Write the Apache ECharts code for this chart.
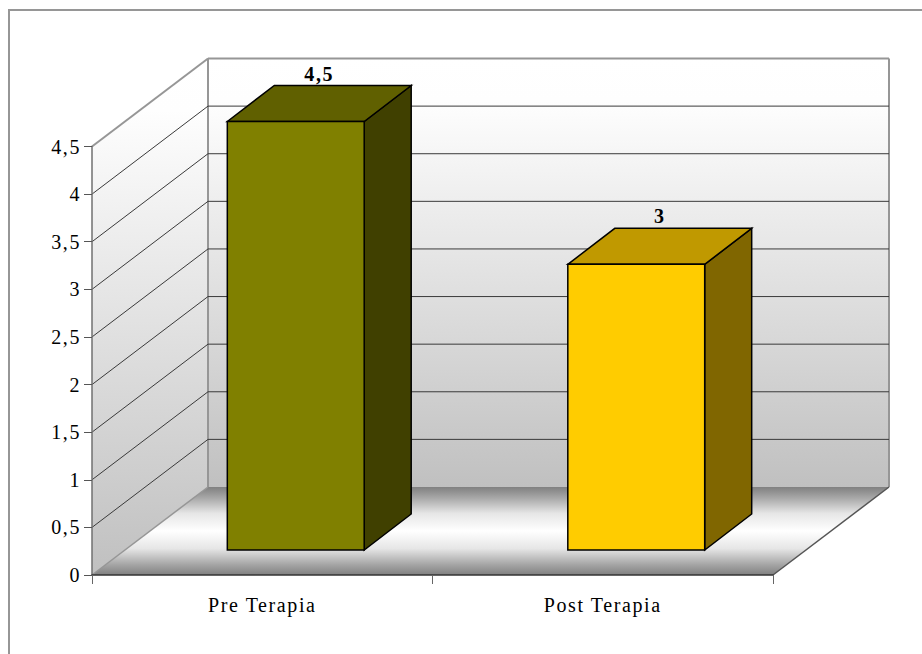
<!DOCTYPE html>
<html>
<head>
<meta charset="utf-8">
<style>
  html, body { margin: 0; padding: 0; background: #fff; overflow: hidden; }
  #chart { width: 922px; height: 654px; letter-spacing: 1.6px; }
</style>
<script src="https://cdn.jsdelivr.net/npm/echarts@6/dist/echarts.min.js"></script>
</head>
<body>
<div id="chart"></div>
<script>
const categories = ['Pre Terapia', 'Post Terapia'];
const values = [4.5, 3];
const gridValues = [0.5, 1, 1.5, 2, 2.5, 3, 3.5, 4];

const fills = [
  { front: '#808000', top: '#606000', side: '#404000' },
  { front: '#FFCC00', top: '#C09900', side: '#806600' }
];

// Oblique projection: how far the back wall sits from the front plane,
// and where each box starts and ends along that depth.
const DEPTH = [116, -88];
const BOX_START = [33.5, -25];
const BOX_DEPTH = [47, -36];
const BOX_WIDTH_RATIO = 0.402;
const SERIF = '"Liberation Serif", "Times New Roman", serif';

const commaDecimal = v => String(v).replace('.', ',');
const shift = (p, d) => [p[0] + d[0], p[1] + d[1]];

function vertical(stops) {
  return {
    type: 'linear', x: 0, y: 0, x2: 0, y2: 1,
    colorStops: stops.map(s => ({ offset: s[0], color: s[1] }))
  };
}

function polygon(points, fill, stroke, lineWidth) {
  return {
    type: 'polygon',
    shape: { points },
    style: { fill, stroke: stroke || 'none', lineWidth: lineWidth || 0, lineJoin: 'miter' }
  };
}

function line(a, b, stroke, lineWidth) {
  return {
    type: 'line',
    shape: { x1: a[0], y1: a[1], x2: b[0], y2: b[1] },
    style: { stroke, lineWidth }
  };
}

// Side wall, back wall and floor of the plot box.
function renderWalls(params) {
  const c = params.coordSys;
  const fl = [c.x, c.y + c.height];
  const fr = [c.x + c.width, c.y + c.height];
  const tl = [c.x, c.y];
  const bl = shift(fl, DEPTH);
  const br = shift(fr, DEPTH);
  const btl = shift(tl, DEPTH);
  const btr = [br[0], btl[1]];
  const wallFill = vertical([[0, '#ffffff'], [0.1, '#fefefe'], [1, '#c0c0c0']]);
  const floorFill = vertical([
    [0, '#808080'], [0.12, '#a6a6a6'], [0.3, '#e6e6e6'], [0.5, '#ffffff'],
    [0.7, '#e6e6e6'], [0.88, '#a6a6a6'], [1, '#808080']
  ]);
  const edge = '#969696';
  return {
    type: 'group',
    children: [
      polygon([tl, btl, bl, fl], wallFill),
      polygon([btl, btr, br, bl], wallFill),
      polygon([fl, fr, br, bl], floorFill),
      line(tl, btl, edge, 2),
      line(btl, btr, edge, 2),
      line(btr, br, edge, 2),
      line(btl, bl, edge, 2),
      line(fl, bl, edge, 1.5),
      line(fr, br, '#555555', 1.5)
    ]
  };
}

// One grid level: diagonal across the side wall, then along the back wall.
function renderGridLine(params, api) {
  const c = params.coordSys;
  const p = api.coord([0, api.value(0)]);
  const front = [c.x, p[1]];
  const back = shift(front, DEPTH);
  const end = [c.x + c.width + DEPTH[0], back[1]];
  return {
    type: 'polyline',
    shape: { points: [front, back, end] },
    style: { fill: 'none', stroke: '#3a3a3a', lineWidth: 1 }
  };
}

// A bar drawn as a box with front, top and side faces plus its value on top.
function renderBox(params, api) {
  const idx = api.value(0);
  const value = api.value(1);
  const colors = fills[params.dataIndex];
  const width = api.size([1, 0])[0] * BOX_WIDTH_RATIO;
  const topPoint = api.coord([idx, value]);
  const basePoint = api.coord([idx, 0]);
  const x0 = topPoint[0] - width / 2 + BOX_START[0];
  const x1 = x0 + width;
  const yTop = topPoint[1] + BOX_START[1];
  const yBase = basePoint[1] + BOX_START[1];
  const ftl = [x0, yTop], ftr = [x1, yTop], fbr = [x1, yBase], fbl = [x0, yBase];
  const stroke = '#000000';
  return {
    type: 'group',
    children: [
      polygon([ftr, shift(ftr, BOX_DEPTH), shift(fbr, BOX_DEPTH), fbr], colors.side, stroke, 1.5),
      polygon([ftl, shift(ftl, BOX_DEPTH), shift(ftr, BOX_DEPTH), ftr], colors.top, stroke, 1.5),
      polygon([ftl, ftr, fbr, fbl], colors.front, stroke, 1.5),
      {
        type: 'text',
        style: {
          x: (x0 + x1) / 2 + BOX_DEPTH[0] / 2,
          y: yTop + BOX_DEPTH[1] - 2,
          text: commaDecimal(value),
          fill: '#000000',
          font: 'bold 20px ' + SERIF,
          align: 'center',
          verticalAlign: 'bottom'
        }
      }
    ]
  };
}

const chart = echarts.init(document.getElementById('chart'), null, { renderer: 'svg' });

chart.setOption({
  animation: false,
  backgroundColor: '#ffffff',
  graphic: [{
    type: 'rect',
    silent: true,
    shape: { x: 9, y: 10, width: 1000, height: 1000 },
    style: { fill: 'none', stroke: '#969696', lineWidth: 2 }
  }],
  grid: { left: 92, top: 146.5, width: 681, height: 428.5 },
  xAxis: {
    type: 'category',
    data: categories,
    z: 5,
    axisLine: { lineStyle: { color: '#333333', width: 1.5 } },
    axisTick: { show: true, length: 9, alignWithLabel: false, lineStyle: { color: '#666666', width: 1 } },
    axisLabel: { color: '#000000', fontFamily: SERIF, fontSize: 20, margin: 20 }
  },
  yAxis: {
    type: 'value',
    min: 0,
    max: 4.5,
    interval: 0.5,
    z: 5,
    axisLine: { show: true, lineStyle: { color: '#707070', width: 1.5 } },
    axisTick: { show: true, length: 8, lineStyle: { color: '#555555', width: 1 } },
    splitLine: { show: false },
    axisLabel: {
      color: '#000000',
      fontFamily: SERIF,
      fontSize: 20,
      margin: 11,
      padding: [2, 0, 0, 0],
      formatter: commaDecimal
    }
  },
  series: [
    {
      type: 'custom',
      name: 'walls',
      coordinateSystem: 'cartesian2d',
      z: 1,
      clip: false,
      silent: true,
      renderItem: renderWalls,
      data: [[0]]
    },
    {
      type: 'custom',
      name: 'grid',
      coordinateSystem: 'cartesian2d',
      z: 2,
      clip: false,
      silent: true,
      renderItem: renderGridLine,
      encode: { y: 0 },
      data: gridValues.map(v => [v])
    },
    {
      type: 'custom',
      name: 'values',
      coordinateSystem: 'cartesian2d',
      z: 3,
      clip: false,
      renderItem: renderBox,
      encode: { x: 0, y: 1 },
      data: values.map((v, i) => [i, v])
    }
  ]
});
</script>
</body>
</html>
